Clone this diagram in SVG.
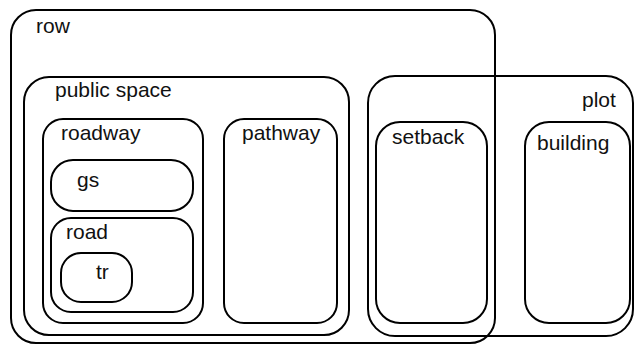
<svg xmlns="http://www.w3.org/2000/svg" width="635" height="345" viewBox="0 0 635 345">
<style>
.box{fill:none;stroke:#000;stroke-width:2}
.lbl{font-family:"Liberation Sans",Arial,sans-serif;font-size:21px;fill:#111}
</style>
<rect width="635" height="345" fill="#fff"/>
<g id="row"><rect class="box" x="11" y="10" width="484" height="333" rx="25"/><text class="lbl" x="36" y="33">row</text></g>
<g id="public-space"><rect class="box" x="24" y="77" width="325" height="258" rx="25"/><text class="lbl" x="55" y="97">public space</text></g>
<g id="roadway"><rect class="box" x="43" y="119" width="160" height="204" rx="20"/><text class="lbl" x="61" y="140">roadway</text></g>
<g id="pathway"><rect class="box" x="224" y="119" width="113" height="204" rx="20"/><text class="lbl" x="242" y="140">pathway</text></g>
<g id="gs"><rect class="box" x="51" y="160" width="142" height="51" rx="22"/><text class="lbl" x="77" y="187">gs</text></g>
<g id="road"><rect class="box" x="51" y="218" width="142" height="94" rx="20"/><text class="lbl" x="66" y="239">road</text></g>
<g id="tr"><rect class="box" x="61" y="253" width="71" height="49" rx="20"/><text class="lbl" x="96" y="279">tr</text></g>
<g id="plot"><rect class="box" x="368" y="76" width="265" height="260" rx="27"/><text class="lbl" x="582" y="107">plot</text></g>
<g id="setback"><rect class="box" x="376" y="122" width="111" height="201" rx="24"/><text class="lbl" x="392" y="144">setback</text></g>
<g id="building"><rect class="box" x="525" y="122" width="105" height="201" rx="24"/><text class="lbl" x="537" y="150">building</text></g>
<g id="connectors"></g>
</svg>
